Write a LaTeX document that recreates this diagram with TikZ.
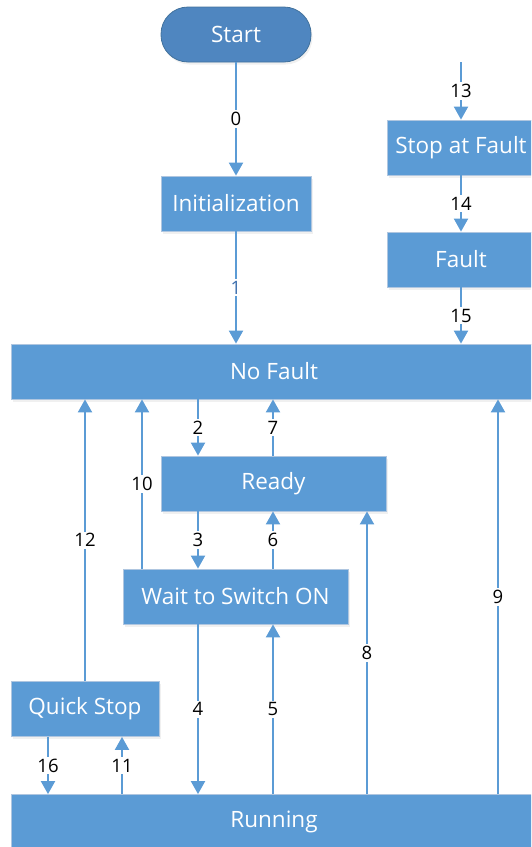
\documentclass[tikz,border=0pt]{standalone}
\usepackage{fontspec}
\setmainfont{Open Sans}
\usetikzlibrary{arrows.meta,shadows,calc}
\definecolor{bblue}{HTML}{5B9BD5}
\definecolor{sblue}{HTML}{4F86C0}
\definecolor{sedge}{HTML}{41719C}
\definecolor{bedge}{HTML}{AFC6E0}
\definecolor{lblblue}{HTML}{3D6FAE}
\tikzset{
  box/.style={rectangle, fill=bblue, draw=bedge, line width=0.8pt, text=white,
    font=\fontsize{22.5}{26}\selectfont, inner sep=0pt, minimum height=55pt,
    drop shadow={opacity=0.12, shadow xshift=1.5pt, shadow yshift=-2.5pt}},
  startbox/.style={box, fill=sblue, draw=sedge, rounded corners=27pt},
  arr/.style={draw=bblue, line width=2pt, -{Triangle[width=14pt,length=13pt]}},
  lbl/.style={fill=white, inner sep=2pt, text=black, font=\fontsize{18.5}{21}\selectfont},
}
\begin{document}
\begin{tikzpicture}[x=1pt,y=-1pt]
\useasboundingbox (0,0) rectangle (531,847);
\clip (0,0) rectangle (531,847);
% nodes
\node[startbox, minimum width=150pt] (start) at (236,34.5) {Start};
\node[box, minimum width=150pt] (init) at (236,203.5) {Initialization};
\node[box, minimum width=148pt] (saf) at (461,147.5) {Stop at Fault};
\node[box, minimum width=148pt] (fault) at (461,259.5) {Fault};
\node[box, minimum width=526pt] (nofault) at (274,371.5) {No Fault};
\node[box, minimum width=225pt] (ready) at (273.5,483.5) {Ready};
\node[box, minimum width=225pt] (wait) at (235.5,596.5) {Wait to Switch ON};
\node[box, minimum width=148pt] (qs) at (85,709) {Quick Stop};
\node[box, minimum width=526pt] (run) at (274,822) {Running};
\coordinate (faultin) at (461,62);
% connectors
\draw[arr] (start) -- node[lbl]{0} (init);
\draw[arr] (init.south) -- node[lbl, text=lblblue, inner xsep=4pt]{1} (init.south |- nofault.north);
\draw[arr] (faultin) -- node[lbl]{13} (saf);
\draw[arr] (saf) -- node[lbl]{14} (fault);
\draw[arr] (fault) -- node[lbl]{15} (nofault.north -| fault);
\draw[arr] (198,0 |- nofault.south) -- node[lbl]{2} (198,0 |- ready.north);
\draw[arr] (273,0 |- ready.north) -- node[lbl]{7} (273,0 |- nofault.south);
\draw[arr] (198,0 |- ready.south) -- node[lbl]{3} (198,0 |- wait.north);
\draw[arr] (273,0 |- wait.north) -- node[lbl]{6} (273,0 |- ready.south);
\draw[arr] (142,0 |- wait.north) -- node[lbl]{10} (142,0 |- nofault.south);
\draw[arr] (qs.north) -- node[lbl]{12} (qs.north |- nofault.south);
\draw[arr] (367,0 |- run.north) -- node[lbl]{8} (367,0 |- ready.south);
\draw[arr] (498,0 |- run.north) -- node[lbl]{9} (498,0 |- nofault.south);
\draw[arr] (198,0 |- wait.south) -- node[lbl]{4} (198,0 |- run.north);
\draw[arr] (273,0 |- run.north) -- node[lbl]{5} (273,0 |- wait.south);
\draw[arr] (48,0 |- qs.south) -- node[lbl]{16} (48,0 |- run.north);
\draw[arr] (122,0 |- run.north) -- node[lbl]{11} (122,0 |- qs.south);
\end{tikzpicture}
\end{document}
